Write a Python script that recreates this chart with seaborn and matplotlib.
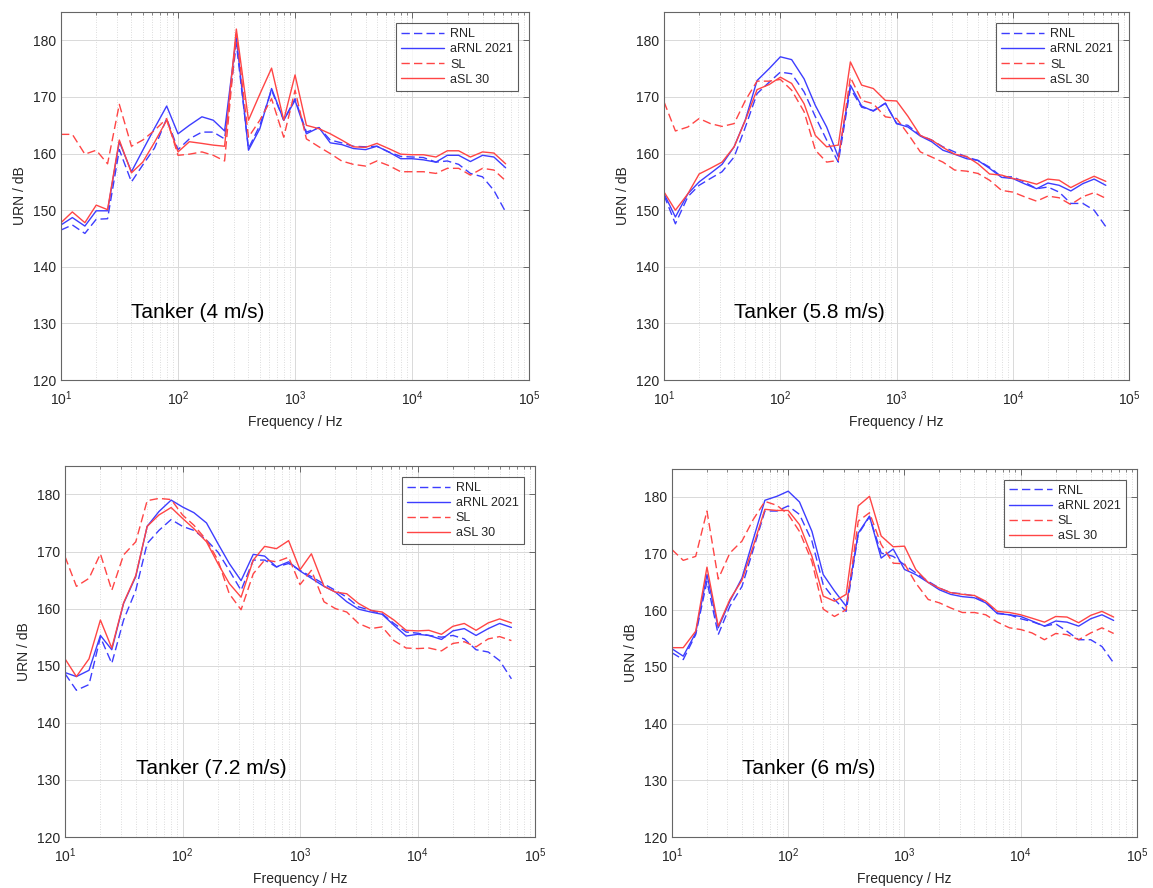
import numpy as np
import pandas as pd
import matplotlib
matplotlib.use("Agg")
import matplotlib.pyplot as plt
import seaborn as sns
from matplotlib.ticker import LogLocator, NullFormatter, FixedLocator

# ---------------- data ----------------
freqs = [10, 12.5, 16, 20, 25, 31.5, 40, 50, 63, 80, 100, 125, 160, 200, 250, 315,
         400, 500, 630, 800, 1000, 1250, 1600, 2000, 2500, 3150, 4000, 5000, 6300,
         8000, 10000, 12500, 16000, 20000, 25000, 31500, 40000, 50000, 63000]

series_names = ["RNL", "aRNL 2021", "SL", "aSL 30"]
panel_titles = ["Tanker (4 m/s)", "Tanker (5.8 m/s)", "Tanker (7.2 m/s)", "Tanker (6 m/s)"]

# Tanker 4 m/s
t4_rnl = [146.5, 147.4, 145.9, 148.4, 148.5, 160.7, 155.0, 158.0, 161.0, 166.2,
          160.7, 162.6, 163.8, 163.8, 162.6, 179.4, 160.9, 165.0, 171.2, 165.9,
          169.7, 163.8, 164.6, 162.4, 161.9, 161.3, 161.2, 161.3, 160.3, 159.5,
          159.4, 159.3, 158.5, 158.7, 158.1, 156.5, 155.9, 153.5, 149.7]
t4_arnl = [147.4, 148.7, 147.2, 149.9, 149.9, 162.1, 156.8, 160.6, 164.5, 168.4,
           163.5, 165.0, 166.5, 165.9, 164.0, 180.6, 160.6, 164.4, 171.5, 165.9,
           169.4, 163.5, 164.6, 161.9, 161.6, 160.9, 160.7, 161.3, 160.3, 159.1,
           159.1, 158.9, 158.5, 159.7, 159.7, 158.6, 159.7, 159.4, 157.5]
t4_sl = [163.4, 163.4, 159.9, 160.6, 158.2, 168.7, 161.3, 162.4, 164.1, 166.2,
         159.7, 159.9, 160.3, 159.7, 158.7, 181.2, 162.9, 165.9, 169.7, 162.9,
         171.2, 162.6, 161.2, 160.0, 158.7, 158.1, 157.8, 158.7, 157.9, 156.8,
         156.8, 156.8, 156.5, 157.4, 157.4, 156.2, 157.4, 157.1, 155.2]
t4_asl = [147.8, 149.7, 147.8, 150.9, 150.1, 162.4, 156.6, 158.5, 162.0, 165.9,
          160.3, 162.1, 161.8, 161.5, 161.3, 182.0, 165.9, 170.5, 175.1, 165.9,
          173.9, 165.0, 164.4, 163.5, 162.4, 161.2, 161.1, 161.8, 160.9, 159.9,
          159.8, 159.8, 159.4, 160.5, 160.5, 159.4, 160.3, 160.1, 158.2]

# Tanker 5.8 m/s
t58_rnl = [152.6, 147.6, 152.4, 154.4, 155.6, 156.8, 159.4, 164.7, 170.6, 172.6,
           174.4, 174.1, 170.9, 166.5, 162.4, 158.5, 171.5, 168.2, 167.6, 168.9,
           165.3, 165.0, 163.2, 162.4, 161.2, 160.3, 159.4, 158.8, 157.6, 155.9,
           155.9, 155.0, 153.8, 154.1, 153.2, 151.2, 151.2, 150.0, 147.1]
t58_arnl = [152.9, 148.8, 152.9, 155.0, 156.5, 158.1, 161.2, 166.0, 172.9, 175.0,
            177.1, 176.6, 173.2, 168.5, 164.7, 159.4, 172.1, 168.4, 167.5, 168.9,
            165.3, 164.7, 163.1, 162.1, 160.6, 159.9, 159.1, 158.8, 157.4, 155.8,
            155.6, 154.7, 153.8, 154.8, 154.4, 153.4, 154.7, 155.5, 154.4]
t58_sl = [169.1, 164.0, 164.7, 166.2, 165.3, 164.8, 165.3, 169.4, 172.8, 172.8,
          173.1, 171.2, 167.4, 160.6, 158.5, 158.8, 173.5, 169.4, 168.8, 166.5,
          166.2, 163.5, 160.3, 159.4, 158.5, 157.1, 156.9, 156.5, 155.3, 153.5,
          153.2, 152.4, 151.6, 152.5, 152.2, 151.0, 152.4, 153.1, 152.1]
t58_asl = [153.2, 150.0, 152.9, 156.4, 157.4, 158.5, 161.2, 165.9, 171.3, 172.2,
           173.5, 172.4, 168.8, 163.2, 161.2, 161.5, 176.2, 172.1, 171.5, 169.4,
           169.3, 166.6, 163.2, 162.4, 161.1, 159.9, 159.5, 158.2, 156.4, 156.2,
           155.6, 155.2, 154.6, 155.5, 155.3, 154.0, 155.1, 156.0, 155.1]

# Tanker 7.2 m/s
t72_rnl = [148.6, 145.7, 146.7, 155.0, 150.4, 158.0, 163.2, 171.4, 173.7, 175.6,
           174.4, 173.7, 172.0, 169.9, 166.7, 163.2, 168.5, 168.5, 167.3, 167.9,
           166.7, 165.6, 164.3, 163.2, 162.0, 160.3, 159.7, 159.1, 157.4, 155.9,
           155.7, 155.3, 155.0, 155.3, 154.7, 152.8, 152.4, 150.9, 147.7]
t72_arnl = [148.8, 148.1, 149.2, 155.3, 152.8, 160.9, 165.6, 174.4, 177.0, 179.0,
            177.8, 176.8, 175.0, 171.4, 167.9, 164.9, 169.5, 169.2, 167.3, 168.2,
            166.6, 165.3, 163.9, 162.9, 161.2, 159.9, 159.4, 159.0, 157.1, 155.2,
            155.5, 155.3, 154.6, 156.1, 156.5, 155.3, 156.5, 157.4, 156.7]
t72_sl = [169.1, 163.9, 165.3, 169.6, 163.2, 169.4, 171.7, 178.9, 179.3, 179.1,
          176.4, 174.6, 172.0, 168.5, 162.6, 159.8, 166.1, 168.5, 168.2, 169.0,
          164.2, 166.7, 161.2, 160.0, 159.4, 157.4, 156.5, 156.8, 154.4, 153.1,
          153.0, 153.1, 152.6, 153.9, 154.2, 153.3, 154.7, 155.1, 154.4]
t72_asl = [151.2, 148.1, 151.2, 158.0, 153.1, 161.0, 165.8, 174.4, 176.4, 177.7,
           175.8, 174.0, 171.7, 167.9, 164.4, 162.0, 168.5, 170.9, 170.5, 171.9,
           166.8, 169.6, 163.9, 162.9, 162.6, 160.9, 159.7, 159.4, 158.0, 156.2,
           156.1, 156.2, 155.5, 156.9, 157.4, 156.2, 157.5, 158.2, 157.5]

# Tanker 6 m/s
t6_rnl = [152.5, 151.3, 155.7, 165.1, 155.7, 160.7, 164.2, 170.7, 177.5, 177.5,
          178.4, 176.9, 172.2, 164.5, 161.9, 159.8, 173.4, 176.5, 170.1, 169.5,
          168.0, 166.6, 165.1, 163.9, 163.1, 162.9, 162.5, 161.4, 159.5, 159.2,
          158.5, 158.0, 157.2, 157.6, 156.3, 154.8, 154.8, 153.6, 150.7]
t6_arnl = [153.2, 151.9, 156.0, 166.3, 156.9, 161.6, 165.7, 172.5, 179.4, 180.1,
           181.0, 179.1, 173.9, 166.3, 163.4, 160.7, 173.6, 176.6, 169.2, 170.8,
           167.2, 166.3, 164.9, 163.6, 162.8, 162.4, 162.2, 161.3, 159.4, 159.2,
           158.9, 158.1, 157.2, 158.1, 157.9, 157.2, 158.5, 159.2, 158.2]
t6_sl = [170.7, 168.8, 169.5, 177.5, 165.5, 170.1, 172.2, 176.0, 179.2, 178.5,
         176.9, 173.9, 168.6, 160.2, 158.9, 160.1, 175.7, 177.2, 171.6, 168.3,
         168.2, 164.8, 161.9, 161.3, 160.4, 159.6, 159.6, 159.2, 157.9, 156.9,
         156.6, 156.0, 154.8, 155.9, 155.7, 154.8, 156.0, 156.9, 155.9]
t6_asl = [153.4, 153.4, 156.3, 167.6, 157.2, 161.9, 165.3, 171.3, 177.8, 177.6,
          177.6, 175.1, 169.5, 162.5, 161.6, 162.8, 178.4, 180.1, 173.1, 171.2,
          171.3, 167.2, 164.9, 163.9, 163.1, 162.8, 162.6, 161.6, 159.8, 159.6,
          159.2, 158.6, 157.9, 158.9, 158.8, 157.8, 159.1, 159.8, 158.8]

panels = [
    (t4_rnl, t4_arnl, t4_sl, t4_asl),
    (t58_rnl, t58_arnl, t58_sl, t58_asl),
    (t72_rnl, t72_arnl, t72_sl, t72_asl),
    (t6_rnl, t6_arnl, t6_sl, t6_asl),
]

yticks = [120, 130, 140, 150, 160, 170, 180]

# ---------------- styling ----------------
sns.set_theme(style="white")
plt.rcParams["font.family"] = ["Liberation Sans", "DejaVu Sans"]
plt.rcParams["mathtext.fontset"] = "custom"
plt.rcParams["mathtext.rm"] = "Liberation Sans"
plt.rcParams["mathtext.it"] = "Liberation Sans:italic"

BLUE = "#3d3dff"
RED = "#ff4545"
palette = {"RNL": BLUE, "aRNL 2021": BLUE, "SL": RED, "aSL 30": RED}
dashes = {"RNL": (6, 3), "aRNL 2021": "", "SL": (6, 3), "aSL 30": ""}
TXT = "#262626"

fig = plt.figure(figsize=(11.53, 8.88), dpi=100)
positions = [
    [0.0529, 0.572, 0.406, 0.4144],
    [0.5760, 0.572, 0.4033, 0.4144],
    [0.0564, 0.0574, 0.4076, 0.4180],
    [0.5828, 0.0574, 0.4033, 0.4150],
]

for pos, vals, title in zip(positions, panels, panel_titles):
    ax = fig.add_axes(pos)
    ax.set_xscale("log")
    df = pd.concat(
        [pd.DataFrame({"Frequency": freqs, "URN": v, "series": n})
         for n, v in zip(series_names, vals)],
        ignore_index=True,
    )
    sns.lineplot(data=df, x="Frequency", y="URN", hue="series", style="series",
                 palette=palette, dashes=dashes, hue_order=series_names,
                 style_order=series_names, linewidth=1.0, ax=ax, sort=False)
    ax.set_xlim(10, 1e5)
    ax.set_ylim(120, 185)
    ax.yaxis.set_major_locator(FixedLocator(yticks))
    ax.xaxis.set_major_locator(LogLocator(base=10, numticks=10))
    ax.xaxis.set_minor_locator(LogLocator(base=10, subs=np.arange(2, 10), numticks=20))
    ax.xaxis.set_minor_formatter(NullFormatter())

    ax.grid(True, which="major", axis="both", color="#d9d9d9", linewidth=0.7, linestyle="-")
    ax.grid(True, which="minor", axis="x", color="#d0d0d0", linewidth=0.6, linestyle=(0, (1, 2)))
    ax.set_axisbelow(True)

    ax.tick_params(axis="both", which="both", direction="in", top=True, right=True,
                   colors="#555555", labelcolor=TXT, labelsize=10)
    ax.tick_params(axis="both", which="major", length=4, width=0.6)
    ax.tick_params(axis="x", which="minor", length=2.5, width=0.5)
    ax.tick_params(axis="x", which="major", pad=7)
    for sp in ax.spines.values():
        sp.set_color("#666666")
        sp.set_linewidth(0.8)

    ax.set_xlabel("Frequency / Hz", fontsize=10, color=TXT, labelpad=5)
    ax.set_ylabel("URN / dB", fontsize=10, color=TXT, labelpad=4)

    ax.text(40, 132, title, fontsize=15, color="black", ha="left", va="center")

    handles, labels = ax.get_legend_handles_labels()
    leg = ax.legend(handles, labels, loc="upper right", fontsize=9, handlelength=3.4,
                    frameon=True, fancybox=False, edgecolor="#333333",
                    borderaxespad=0.9, labelspacing=0.25, borderpad=0.4,
                    handletextpad=0.5)
    leg.get_frame().set_linewidth(0.8)
    leg.get_frame().set_facecolor("white")

fig.savefig("out.png", dpi=100, facecolor="white")
